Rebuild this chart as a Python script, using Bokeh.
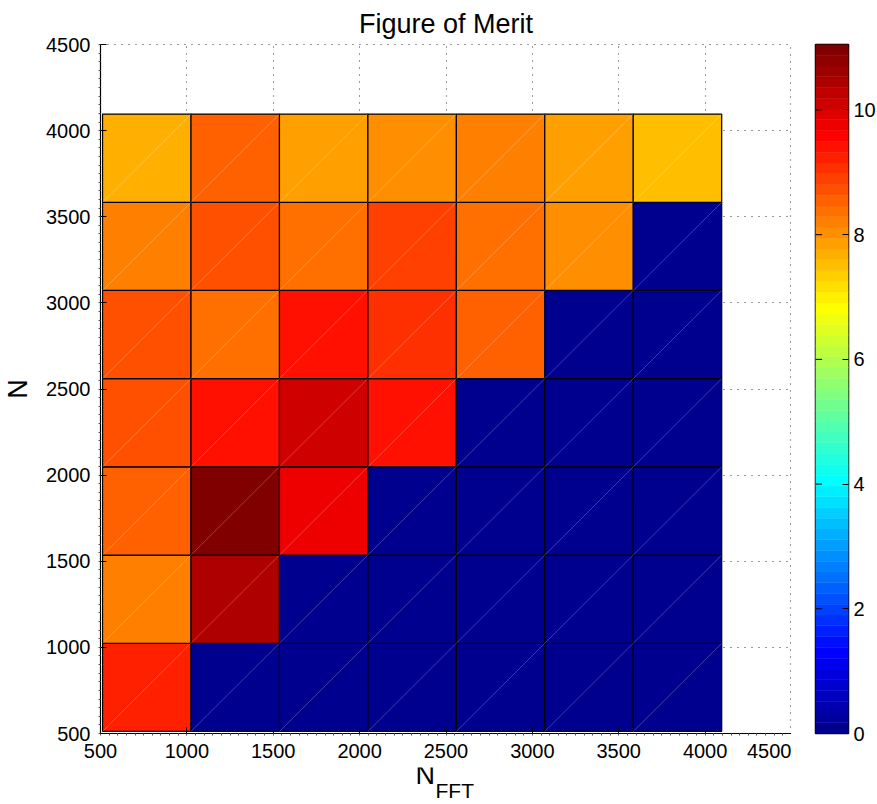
import math
import numpy as np
from bokeh.plotting import figure
from bokeh.layouts import row, column
from bokeh.models import (LinearColorMapper, FixedTicker, ColumnDataSource, Range1d)
from bokeh.transform import transform
from bokeh.core.properties import value
from bokeh.embed import file_html
from bokeh.resources import INLINE

# ---- data -------------------------------------------------------------
nfft_edges = [512, 1024, 1536, 2048, 2560, 3072, 3584, 4096]   # x cell edges
n_edges = [512, 1024, 1536, 2048, 2560, 3072, 3584, 4096]      # y cell edges
# figure of merit, one row per N cell (bottom row first), one value per N_FFT cell
fom_rows = [
    [9.2, 0.0, 0.0, 0.0, 0.0, 0.0, 0.0],
    [8.2, 10.4, 0.0, 0.0, 0.0, 0.0, 0.0],
    [8.5, 11.05, 9.8, 0.0, 0.0, 0.0, 0.0],
    [8.7, 9.4, 10.1, 9.4, 0.0, 0.0, 0.0],
    [8.7, 8.4, 9.4, 9.1, 8.5, 0.0, 0.0],
    [8.2, 8.7, 8.4, 8.9, 8.4, 8.0, 0.0],
    [7.7, 8.5, 7.9, 8.0, 8.2, 7.9, 7.5],
]
axis_ticks = [500, 1000, 1500, 2000, 2500, 3000, 3500, 4000, 4500]
cbar_ticks = [0, 2, 4, 6, 8, 10]
c_low, c_high = 0.0, 11.05

# ---- jet colormap (64 levels, MATLAB style) ---------------------------
def jet(m=64):
    n = math.ceil(m / 4)
    u = np.concatenate([np.arange(1, n + 1) / n, np.ones(n - 1), np.arange(n, 0, -1) / n])
    g = math.ceil(n / 2) - (1 if m % 4 == 1 else 0) + np.arange(1, len(u) + 1)
    r = g + n
    b = g - n
    cmap = np.zeros((m, 3))
    for idx, ch in ((r, 0), (g, 1), (b, 2)):
        for k, pos in enumerate(idx):
            if 1 <= pos <= m:
                cmap[pos - 1, ch] = u[k]
    return ["#%02x%02x%02x" % tuple(int(round(c * 255)) for c in row) for row in cmap]

palette = jet(64)
mapper = LinearColorMapper(palette=palette, low=c_low, high=c_high)

left, right, bottom, top, vals = [], [], [], [], []
for i, r_ in enumerate(fom_rows):
    for j, v in enumerate(r_):
        left.append(nfft_edges[j]); right.append(nfft_edges[j + 1])
        bottom.append(n_edges[i]); top.append(n_edges[i + 1])
        vals.append(v)
src = ColumnDataSource(dict(left=left, right=right, bottom=bottom, top=top, fom=vals))

FONT = "Liberation Sans"
TOP = 44
BOT = 34

# ---- main heat map ------------------------------------------------------
p = figure(frame_width=691, frame_height=689, x_range=(500, 4500), y_range=(500, 4500),
           output_backend="svg", toolbar_location=None,
           min_border_left=100, min_border_bottom=BOT, min_border_top=TOP, min_border_right=0)
p.background_fill_color = "white"
p.border_fill_color = "white"
p.outline_line_color = "black"
p.outline_line_dash = "1 6"
p.outline_line_alpha = 0.8

p.title.text = "Figure of Merit"
p.title.align = "center"
p.title.text_font = FONT
p.title.text_font_size = "27px"
p.title.text_font_style = "normal"
p.title.text_color = "black"
p.title.standoff = 12

p.quad(left="left", right="right", bottom="bottom", top="top", source=src,
       fill_color=transform("fom", mapper), line_color="black", line_width=1.2)
# faint rendering diagonals seen in the cells
p.segment(x0="left", y0="bottom", x1="right", y1="top", source=src,
          line_color="white", line_alpha=0.3, line_width=0.8)

for ax in (p.xaxis[0], p.yaxis[0]):
    ax.ticker = FixedTicker(ticks=axis_ticks,
                            minor_ticks=list(range(500, 4501, 50)))
    ax.major_label_text_font = FONT
    ax.major_label_text_font_size = "20px"
    ax.major_label_text_color = "black"
    ax.axis_line_color = "black"
    ax.axis_line_width = 1.2
    ax.major_tick_in = 6
    ax.major_tick_out = 0
    ax.minor_tick_in = 0
    ax.minor_tick_out = 2
    ax.major_tick_line_color = "black"
    ax.minor_tick_line_color = "#555555"
    ax.major_label_standoff = 8

p.yaxis[0].axis_label = "N"
p.yaxis[0].axis_label_text_font = FONT
p.yaxis[0].axis_label_text_font_size = "27px"
p.yaxis[0].axis_label_text_font_style = "normal"
p.yaxis[0].axis_label_text_color = "black"
p.yaxis[0].axis_label_standoff = 10

p.grid.grid_line_color = "black"
p.grid.grid_line_alpha = 0.8
p.grid.grid_line_dash = "1 6"
p.grid.grid_line_width = 1

# ---- colour bar (separate panel) ---------------------------------------
step = (c_high - c_low) / len(palette)
cb_src = ColumnDataSource(dict(
    bottom=[c_low + k * step for k in range(len(palette))],
    top=[c_low + (k + 1) * step for k in range(len(palette))],
    color=palette))
pc = figure(frame_width=33, frame_height=689, x_range=(0, 1), y_range=(c_low, c_high),
            output_backend="svg", toolbar_location=None, y_axis_location="right",
            x_axis_type=None, title=None,
            min_border_left=24, min_border_right=29, min_border_top=TOP, min_border_bottom=BOT)
pc.quad(left=0, right=1, bottom="bottom", top="top", fill_color="color",
        line_color="color", line_width=0.5, source=cb_src)
# inward tick marks on the left edge of the bar
pc.segment(x0=0, x1=0.2, y0=cbar_ticks, y1=cbar_ticks, line_color="black", line_width=1)
pc.grid.visible = False
pc.outline_line_color = "black"
pc.outline_line_width = 1.5
pc.border_fill_color = "white"
ra = pc.yaxis[0]
ra.ticker = FixedTicker(ticks=cbar_ticks)
ra.major_label_text_font = FONT
ra.major_label_text_font_size = "20px"
ra.major_label_text_color = "black"
ra.axis_line_color = None
ra.major_tick_in = 6
ra.major_tick_out = 0
ra.minor_tick_line_color = None
ra.major_tick_line_color = "black"
ra.major_label_standoff = 5

# ---- x-axis label N_FFT ----------------------------------------------
LAB_H = 37
pl = figure(width=877, height=LAB_H, x_range=Range1d(0, 877), y_range=Range1d(LAB_H, 0),
            output_backend="svg", toolbar_location=None, x_axis_type=None, y_axis_type=None,
            min_border=0, title=None)
pl.outline_line_color = None
pl.background_fill_color = "white"
pl.border_fill_color = "white"
pl.grid.visible = False
pl.text(x=[415], y=[7], text=["N"], text_font=value(FONT),
        text_font_size="27px", text_color="black", text_align="left",
        text_baseline="alphabetic")
pl.text(x=[435], y=[23], text=["FFT"], text_font=value(FONT),
        text_font_size="21px", text_color="black", text_align="left",
        text_baseline="alphabetic")

layout = column(row(p, pc, spacing=0), pl, spacing=0)
open("out.html", "w").write(file_html(layout, INLINE))
